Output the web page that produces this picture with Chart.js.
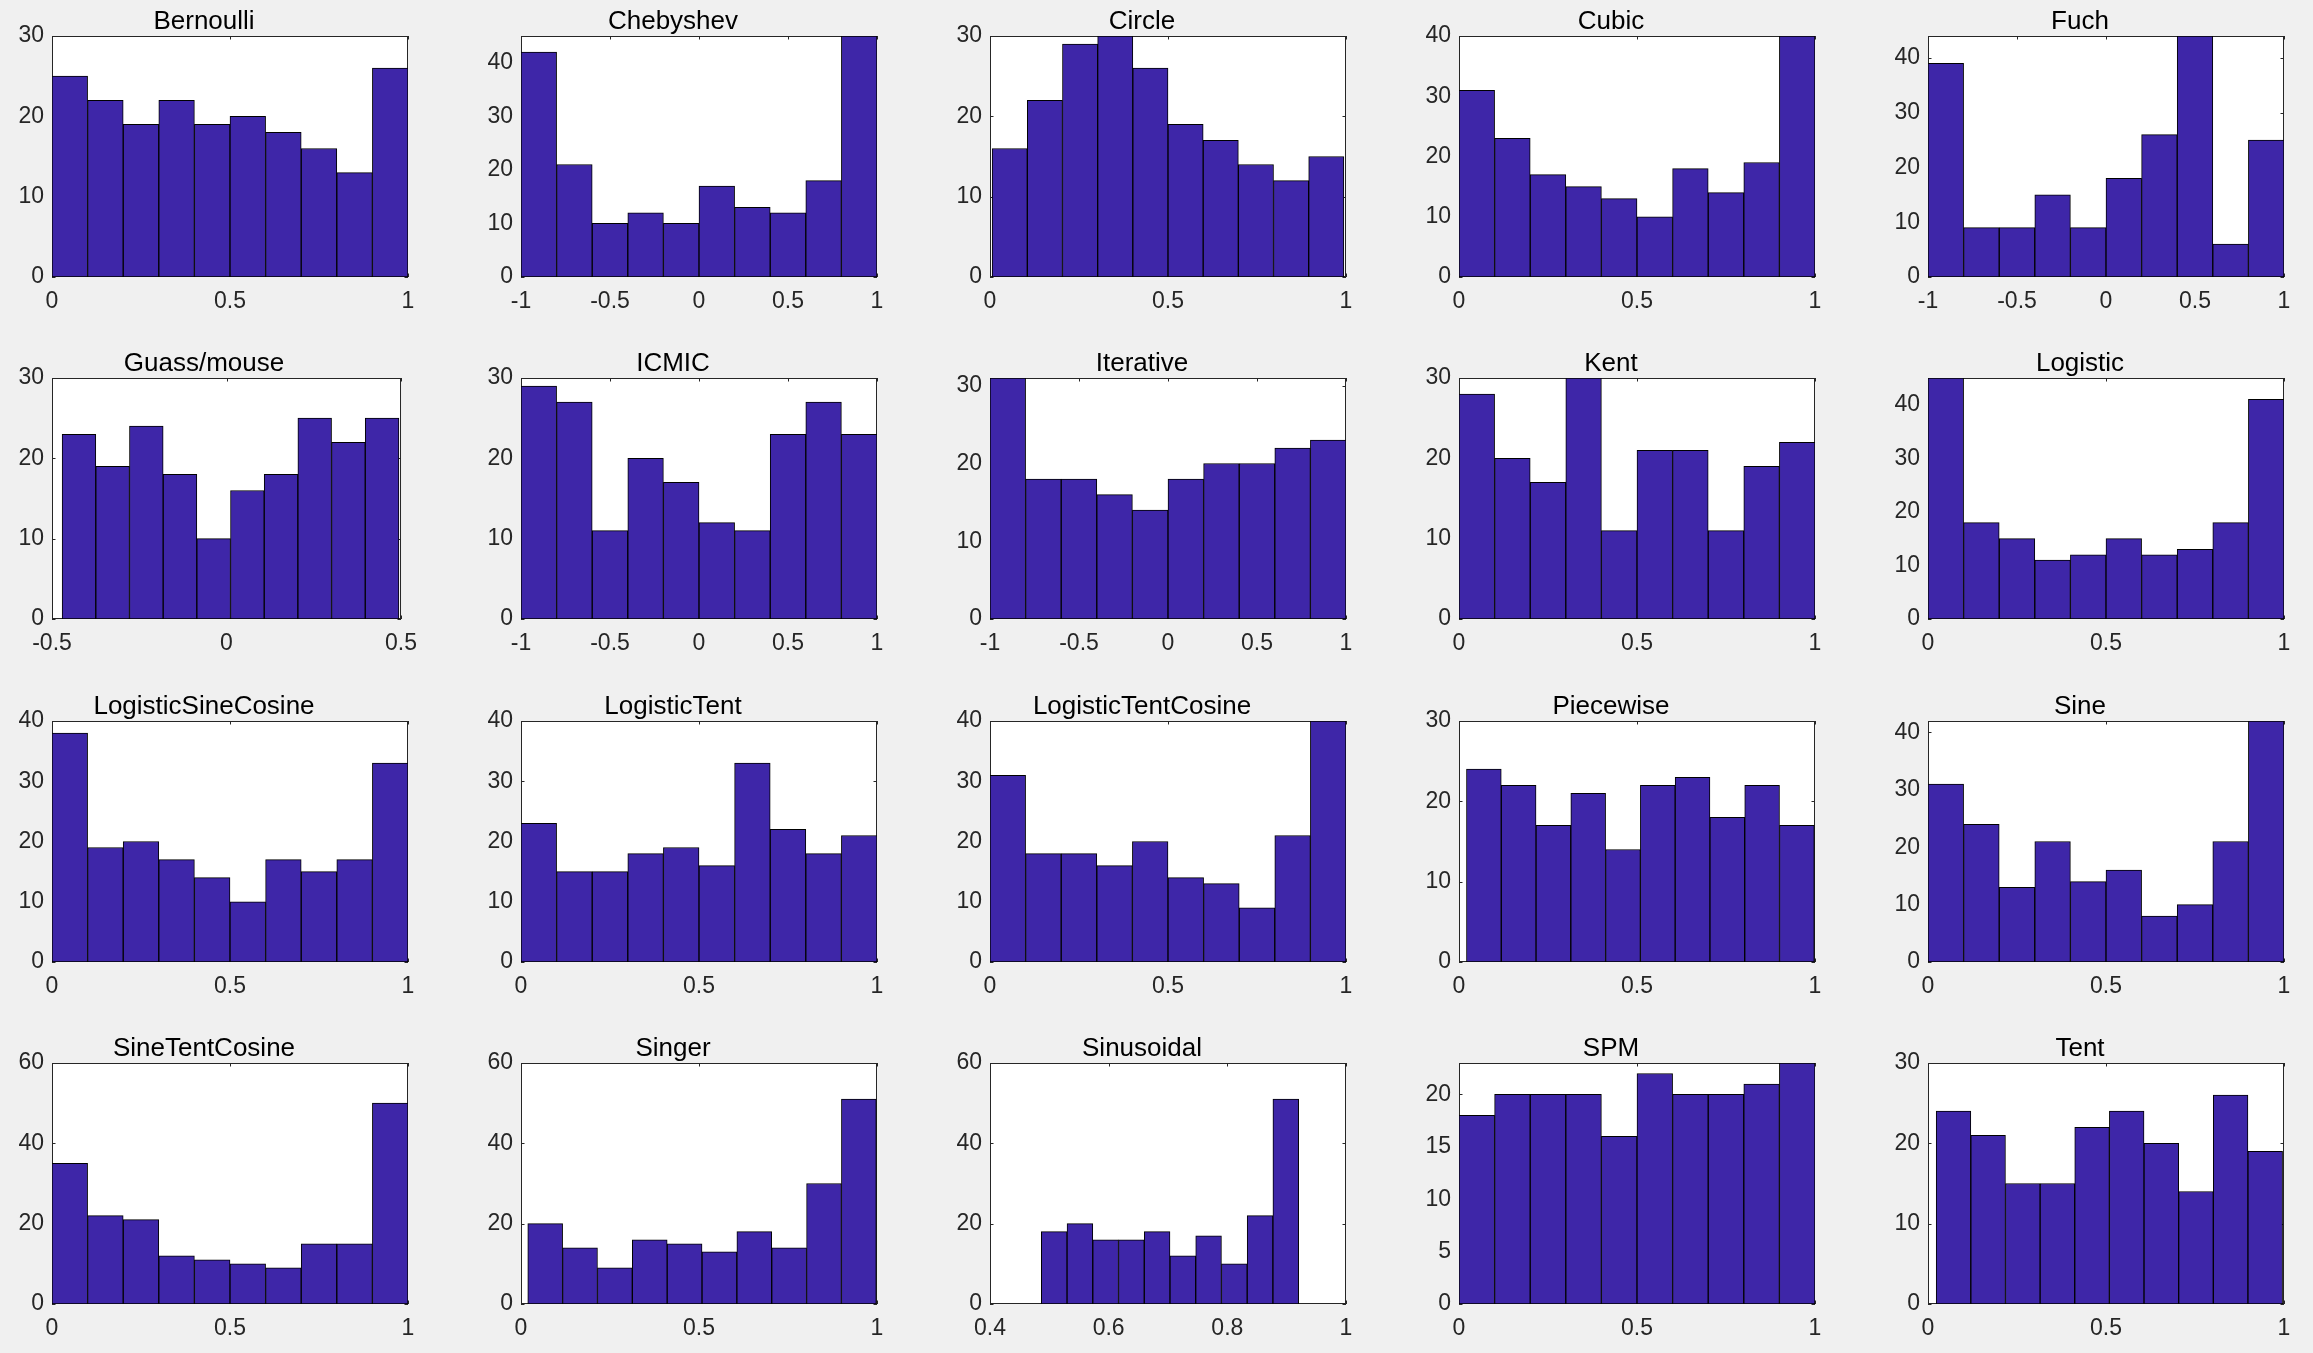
<!DOCTYPE html>
<html><head><meta charset="utf-8">
<script src="https://cdn.jsdelivr.net/npm/chart.js@4.4.1/dist/chart.umd.min.js"></script>
<style>
html,body{margin:0;padding:0;background:#f0f0f0;width:2313px;height:1353px;overflow:hidden;}
canvas{position:absolute;}
</style></head><body>
<script>
// ---- data (counts per bin) ----
const titles = ["Bernoulli","Chebyshev","Circle","Cubic","Fuch",
  "Guass/mouse","ICMIC","Iterative","Kent","Logistic",
  "LogisticSineCosine","LogisticTent","LogisticTentCosine","Piecewise","Sine",
  "SineTentCosine","Singer","Sinusoidal","SPM","Tent"];

const bernoulli          = [25,22,19,22,19,20,18,16,13,26];
const chebyshev          = [42,21,10,12,10,17,13,12,18,45];
const circle             = [16,22,29,30,26,19,17,14,12,15];
const cubic              = [31,23,17,15,13,10,18,14,19,40];
const fuch               = [39,9,9,15,9,18,26,44,6,25];
const guassMouse         = [23,19,24,18,10,16,18,25,22,25];
const icmic              = [29,27,11,20,17,12,11,23,27,23];
const iterative          = [31,18,18,16,14,18,20,20,22,23];
const kent               = [28,20,17,30,11,21,21,11,19,22];
const logistic           = [45,18,15,11,12,15,12,13,18,41];
const logisticSineCosine = [38,19,20,17,14,10,17,15,17,33];
const logisticTent       = [23,15,15,18,19,16,33,22,18,21];
const logisticTentCosine = [31,18,18,16,20,14,13,9,21,40];
const piecewise          = [24,22,17,21,14,22,23,18,22,17];
const sine               = [31,24,13,21,14,16,8,10,21,42];
const sineTentCosine     = [35,22,21,12,11,10,9,15,15,50];
const singer             = [20,14,9,16,15,13,18,14,30,51];
const sinusoidal         = [18,20,16,16,18,12,17,10,22,51];
const spm                = [18,20,20,20,16,22,20,20,21,23];
const tent               = [24,21,15,15,22,24,20,14,26,19];

const counts = [bernoulli,chebyshev,circle,cubic,fuch,guassMouse,icmic,iterative,kent,logistic,
  logisticSineCosine,logisticTent,logisticTentCosine,piecewise,sine,sineTentCosine,singer,sinusoidal,spm,tent];

// data range covered by the 10 bins of each histogram
const binRanges = [[0,1],[-1,1],[0.006,0.994],[0,1],[-1,1],
  [-0.471,0.494],[-1,1],[-1,1],[0,1],[0,1],
  [0,1],[0,1],[0,1],[0.021,0.998],[0,1],
  [0,1],[0.019,0.998],[0.4865,0.9202],[0,1],[0.023,0.996]];

// axis limits and tick labels
const xLimits = [[0,1],[-1,1],[0,1],[0,1],[-1,1],
  [-0.5,0.5],[-1,1],[-1,1],[0,1],[0,1],
  [0,1],[0,1],[0,1],[0,1],[0,1],
  [0,1],[0,1],[0.4,1],[0,1],[0,1]];
const xTicks01 = [0,0.5,1];
const xTicksSym = [-1,-0.5,0,0.5,1];
const xTicksHalf = [-0.5,0,0.5];
const xTicksSinus = [0.4,0.6,0.8,1];
const xTicks = [xTicks01,xTicksSym,xTicks01,xTicks01,xTicksSym,
  xTicksHalf,xTicksSym,xTicksSym,xTicks01,xTicks01,
  xTicks01,xTicks01,xTicks01,xTicks01,xTicks01,
  xTicks01,xTicks01,xTicksSinus,xTicks01,xTicks01];
const yMax = [30,45,30,40,44, 30,30,31,30,45, 40,40,40,30,42, 60,60,60,23,30];
const yTicks10_30 = [0,10,20,30];
const yTicks10_40 = [0,10,20,30,40];
const yTicks20_60 = [0,20,40,60];
const yTicks5_20 = [0,5,10,15,20];
const yTicks = [yTicks10_30,yTicks10_40,yTicks10_30,yTicks10_40,yTicks10_40,
  yTicks10_30,yTicks10_30,yTicks10_30,yTicks10_30,yTicks10_40,
  yTicks10_40,yTicks10_40,yTicks10_40,yTicks10_30,yTicks10_40,
  yTicks20_60,yTicks20_60,yTicks20_60,yTicks5_20,yTicks10_30];

// ---- layout / style ----
const FONT = "'Liberation Sans', Arial, Helvetica, sans-serif";
const AX_LEFT = 52, AX_W = 356, AX_H = 241, TITLE_H = 36, XAX_H = 40, RIGHT_PAD = 20;
const COL_STEP = 469, ROW_STEP = 342.4;

const frame = {
  id: 'frame',
  beforeDraw(chart) {
    const {ctx, chartArea: a} = chart;
    ctx.save();
    ctx.fillStyle = '#ffffff';
    ctx.fillRect(a.left, a.top, a.right - a.left, a.bottom - a.top);
    ctx.restore();
  },
  beforeDatasetsDraw(chart) {
    const {ctx, chartArea: a, scales: {x, y}} = chart;
    const L = 3.5;
    ctx.save();
    ctx.strokeStyle = '#262626';
    ctx.lineWidth = 1;
    ctx.beginPath();
    x.ticks.forEach(t => {
      const px = Math.round(x.getPixelForValue(t.value)) + 0.5;
      ctx.moveTo(px, a.bottom); ctx.lineTo(px, a.bottom - L);
      ctx.moveTo(px, a.top); ctx.lineTo(px, a.top + L);
    });
    y.ticks.forEach(t => {
      const py = Math.round(y.getPixelForValue(t.value)) + 0.5;
      ctx.moveTo(a.left, py); ctx.lineTo(a.left + L, py);
      ctx.moveTo(a.right, py); ctx.lineTo(a.right - L, py);
    });
    ctx.stroke();
    ctx.strokeRect(a.left + 0.5, a.top + 0.5, a.right - a.left - 1, a.bottom - a.top - 1);
    ctx.restore();
  }
};

counts.forEach((vals, i) => {
  const r = Math.floor(i / 5), c = i % 5;
  const cv = document.createElement('canvas');
  cv.width = AX_LEFT + AX_W + RIGHT_PAD;
  cv.height = TITLE_H + AX_H + XAX_H;
  cv.style.left = (c * COL_STEP) + 'px';
  cv.style.top = Math.round(r * ROW_STEP) + 'px';
  document.body.appendChild(cv);

  const [lo, hi] = binRanges[i];
  const w = (hi - lo) / vals.length;
  const pts = vals.map((v, k) => ({x: lo + (k + 0.5) * w, y: v}));

  new Chart(cv, {
    type: 'bar',
    data: {datasets: [{
      data: pts,
      backgroundColor: '#3e26a8',
      borderColor: '#000000',
      borderWidth: 1,
      borderSkipped: false,
      barPercentage: 1,
      categoryPercentage: 1
    }]},
    options: {
      responsive: false,
      animation: false,
      layout: {padding: {left: 0, right: RIGHT_PAD, top: 0, bottom: 0}},
      plugins: {
        legend: {display: false},
        tooltip: {enabled: false},
        title: {display: true, text: titles[i], color: '#000000',
          font: {family: FONT, size: 26, weight: 'normal', lineHeight: '30px'},
          padding: {top: 7, bottom: -1}}
      },
      scales: {
        x: {
          type: 'linear', offset: false,
          min: xLimits[i][0], max: xLimits[i][1],
          grid: {display: false, drawTicks: false}, border: {display: false},
          afterBuildTicks: s => { s.ticks = xTicks[i].map(v => ({value: v})); },
          afterFit: s => { s.height = XAX_H; },
          ticks: {color: '#262626', font: {family: FONT, size: 23}, padding: 11,
            maxRotation: 0, autoSkip: false, callback: v => String(v)}
        },
        y: {
          min: 0, max: yMax[i],
          grid: {display: false, drawTicks: false}, border: {display: false},
          afterBuildTicks: s => { s.ticks = yTicks[i].map(v => ({value: v})); },
          afterFit: s => { s.width = AX_LEFT; },
          ticks: {color: '#262626', font: {family: FONT, size: 23}, padding: 8,
            autoSkip: false, callback: v => String(v)}
        }
      }
    },
    plugins: [frame]
  });
});
</script>
</body></html>
